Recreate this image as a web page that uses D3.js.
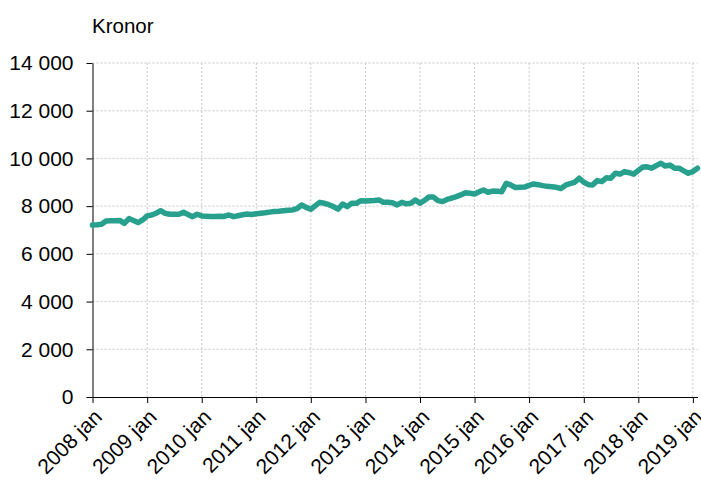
<!doctype html>
<html>
<head>
<meta charset="utf-8">
<style>
  body { margin:0; background:#fff; }
  svg { font-family: "Liberation Sans", Arial, sans-serif; }
  .grid line { stroke:#c8c8c8; stroke-dasharray:2,2; stroke-width:1px; }
  .axis path, .axis line { stroke:#000; }
  .axis text { font-size:21px; fill:#000; font-family: "Liberation Sans", Arial, sans-serif; }
</style>
<script src="https://cdn.jsdelivr.net/npm/d3@7"></script>
</head>
<body>
<svg id="chart" width="701" height="482"></svg>
<script>
// månadsdata 2008 jan - 2019 feb
var startYear = 2008
var values = [
  7210, 7220, 7240, 7380, 7390, 7390, 7400, 7280, 7480, 7400, 7310, 7420,
  7590, 7630, 7700, 7810, 7700, 7660, 7660, 7660, 7740, 7650, 7560, 7660,
  7590, 7580, 7570, 7570, 7580, 7570, 7630, 7560, 7600, 7640, 7670, 7650,
  7680, 7700, 7720, 7750, 7780, 7790, 7810, 7830, 7840, 7900, 8050, 7950,
  7870, 8020, 8160, 8120, 8060, 7980, 7870, 8090, 7980, 8120, 8120, 8230,
  8220, 8230, 8240, 8260, 8160, 8160, 8140, 8050, 8160, 8100, 8120, 8260,
  8120, 8250, 8380, 8380, 8230, 8190, 8280, 8340, 8400, 8470, 8560, 8540,
  8510, 8600, 8680, 8580, 8630, 8620, 8600, 8960, 8880, 8780, 8790, 8800,
  8870, 8930, 8900, 8860, 8830, 8810, 8790, 8740, 8880, 8940, 9000, 9170,
  9000, 8900, 8890, 9070, 9030, 9190, 9170, 9380, 9340, 9450, 9400, 9340,
  9500, 9640, 9650, 9590, 9700, 9800, 9680, 9720, 9590, 9590, 9480, 9380,
  9450, 9590
]
var yTicks = [0, 2000, 4000, 6000, 8000, 10000, 12000, 14000]
var xTickYears = d3.range(2008, 2020)
var yLabel = "Kronor"

var data = values.map(function(v, i) {
  return { date: new Date(startYear, i, 1), value: v }
})

var svg = d3.select("#chart")
var mLeft = 92.5, mRight = 697.5, mTop = 63, mBottom = 397

var x = d3.scaleTime()
  .domain([data[0].date, data[data.length - 1].date])
  .range([mLeft, mRight])
var y = d3.scaleLinear().domain([0, 14000]).range([mBottom, mTop])

var xTicks = xTickYears.map(function(yr) { return new Date(yr, 0, 1) })
var fmt = function(v) { return d3.format(",")(v).replace(/,/g, " ") }

// rutnät
var grid = svg.append("g").attr("class", "grid")
grid.selectAll("line.h").data(yTicks.slice(1)).enter().append("line")
  .attr("x1", mLeft).attr("x2", mRight)
  .attr("y1", function(d) { return y(d) }).attr("y2", function(d) { return y(d) })
grid.selectAll("line.v").data(xTicks.slice(1)).enter().append("line")
  .attr("x1", function(d) { return x(d) }).attr("x2", function(d) { return x(d) })
  .attr("y1", mTop).attr("y2", mBottom)

// axlar
svg.append("g").attr("class", "axis")
  .attr("transform", "translate(" + mLeft + ",0)")
  .call(d3.axisLeft(y).tickValues(yTicks).tickFormat(fmt).tickSize(6).tickPadding(13).tickSizeOuter(0))

var xAxis = svg.append("g").attr("class", "axis")
  .attr("transform", "translate(0," + mBottom + ")")
  .call(d3.axisBottom(x).tickValues(xTicks).tickSize(6).tickSizeOuter(0)
    .tickFormat(function(d) { return d.getFullYear() + " jan" }))
xAxis.selectAll("text")
  .attr("text-anchor", "end")
  .attr("dy", "0.35em")
  .attr("transform", "translate(5,16) rotate(-45)")
  .attr("y", 0).attr("x", 0)

// linje
svg.append("path")
  .datum(data)
  .attr("fill", "none")
  .attr("stroke", "#28a08e")
  .attr("stroke-width", 5.5)
  .attr("stroke-linejoin", "round")
  .attr("stroke-linecap", "round")
  .attr("d", d3.line().x(function(d) { return x(d.date) }).y(function(d) { return y(d.value) }))

svg.append("text")
  .attr("x", 92).attr("y", 33)
  .style("font-size", "20.5px")
  .text(yLabel)
</script>
</body>
</html>
